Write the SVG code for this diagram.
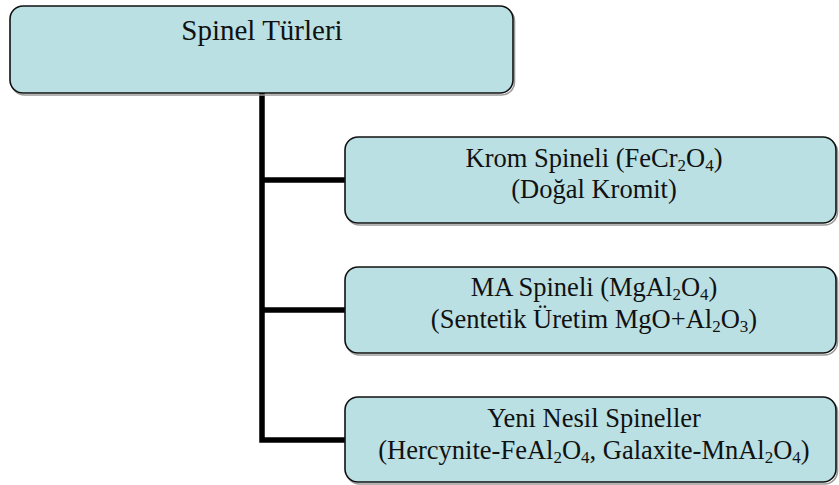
<svg xmlns="http://www.w3.org/2000/svg" width="839" height="485" viewBox="0 0 839 485">
  <style>
    .box { fill: #BAE0E3; stroke: #111; stroke-width: 1.6; }
    .shadow { fill: none; stroke: #9a9a9a; stroke-width: 1.6; }
    .wire { fill: none; stroke: #000; stroke-width: 5.5; stroke-linejoin: miter; stroke-linecap: butt; }
    .lbl { font-family: "Liberation Serif", "Times New Roman", serif; fill: #111; text-anchor: middle; }
    .t1 { font-size: 29px; }
    .t2 { font-size: 26.5px; }
    .sub { font-size: 17px; }
  </style>

  <!-- tree connectors -->
  <g id="connectors">
    <path class="wire" d="M262 93 V440 H345"/>
    <path class="wire" d="M262 180 H345"/>
    <path class="wire" d="M262 310 H345"/>
  </g>

  <!-- root -->
  <g id="root">
    <rect class="shadow" x="11.5" y="8" width="503" height="87" rx="13"/>
    <rect class="box" x="10" y="6" width="503" height="87" rx="13"/>
    <text class="lbl t1" x="262" y="40">Spinel Türleri</text>
  </g>

  <!-- chromite spinel -->
  <g id="krom">
    <rect class="shadow" x="346.5" y="139" width="491" height="86" rx="13"/>
    <rect class="box" x="345" y="137" width="491" height="86" rx="13"/>
    <text class="lbl t2" x="594" y="167">Krom Spineli (FeCr<tspan class="sub" dy="4">2</tspan><tspan dy="-4">O</tspan><tspan class="sub" dy="4">4</tspan><tspan dy="-4">)</tspan></text>
    <text class="lbl t2" x="594" y="198">(Doğal Kromit)</text>
  </g>

  <!-- MA spinel -->
  <g id="ma">
    <rect class="shadow" x="346.5" y="269" width="491" height="86" rx="13"/>
    <rect class="box" x="345" y="267" width="491" height="86" rx="13"/>
    <text class="lbl t2" x="594" y="296">MA Spineli (MgAl<tspan class="sub" dy="4">2</tspan><tspan dy="-4">O</tspan><tspan class="sub" dy="4">4</tspan><tspan dy="-4">)</tspan></text>
    <text class="lbl t2" x="594" y="328">(Sentetik Üretim MgO+Al<tspan class="sub" dy="4">2</tspan><tspan dy="-4">O</tspan><tspan class="sub" dy="4">3</tspan><tspan dy="-4">)</tspan></text>
  </g>

  <!-- new generation spinels -->
  <g id="yeni">
    <rect class="shadow" x="346.5" y="399" width="491" height="85" rx="13"/>
    <rect class="box" x="345" y="397" width="491" height="85" rx="13"/>
    <text class="lbl t2" x="594" y="427">Yeni Nesil Spineller</text>
    <text class="lbl t2" x="594" y="459">(Hercynite-FeAl<tspan class="sub" dy="4">2</tspan><tspan dy="-4">O</tspan><tspan class="sub" dy="4">4</tspan><tspan dy="-4">, Galaxite-MnAl</tspan><tspan class="sub" dy="4">2</tspan><tspan dy="-4">O</tspan><tspan class="sub" dy="4">4</tspan><tspan dy="-4">)</tspan></text>
  </g>
</svg>
